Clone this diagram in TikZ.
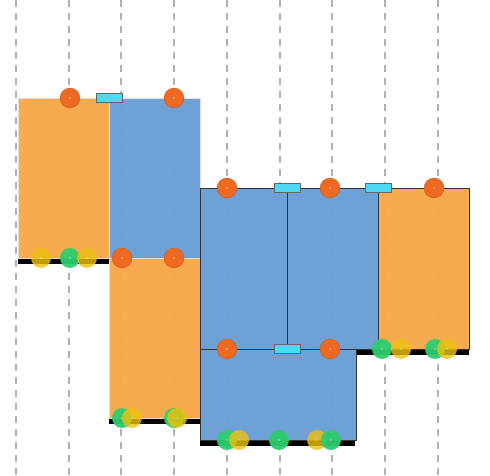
\documentclass[tikz,border=0pt]{standalone}
\begin{document}
\begin{tikzpicture}[x=1pt,y=-1pt,
  guide/.style={draw=gray!60,line width=1.3pt,dash pattern=on 7pt off 6pt},
  orect/.style={fill=orng,fill opacity=0.97},
  brect/.style={fill=blu,fill opacity=0.97},
  litebd/.style={draw=gray!25,line width=0.8pt},
  darkbd/.style={draw=black!80,line width=1pt},
  bar/.style={fill=black},
  link/.style={draw=black!60,fill=cyn,line width=0.6pt,minimum width=26pt,minimum height=9pt,inner sep=0pt},
  oc/.style={circle,fill=orc,draw=orc!80!black,line width=0.3pt,minimum size=20pt,inner sep=0pt,path picture={\fill[white](path picture bounding box.center) circle (0.6pt);}},
  gc/.style={circle,fill=grn,fill opacity=0.95,minimum size=20pt,inner sep=0pt,path picture={\fill[white](path picture bounding box.center) circle (0.6pt);}},
  yc/.style={circle,fill=ylw,fill opacity=0.8,minimum size=20pt,inner sep=0pt,path picture={\fill[white](path picture bounding box.center) circle (0.6pt);}},
]
\definecolor{orng}{HTML}{F8A84A}
\definecolor{blu}{HTML}{6AA0D6}
\definecolor{cyn}{HTML}{4ED8F4}
\definecolor{orc}{HTML}{EE6A22}
\definecolor{grn}{HTML}{2ECC6F}
\definecolor{ylw}{HTML}{EDC20F}
\useasboundingbox[fill=white] (0,0) rectangle (490,476);
% guides
\foreach \i/\x in {1/16,2/69,3/121,4/174,5/227,6/280,7/332,8/385,9/438}{
  \coordinate (gt\i) at (\x,0); \coordinate (gb\i) at (\x,476);
  \draw[guide] (gt\i) -- (gb\i);
}
% bars
\path[bar] (18,258) rectangle (109,264);
\path[bar] (109,418) rectangle (200,424);
\path[bar] (200,440) rectangle (355,446);
\path[bar] (357,349) rectangle (469,355);
% rectangles
\path[orect] (18,98) rectangle (109,258);
\draw[litebd] (18,98) rectangle (109,258);
\path[brect] (109,98) rectangle (200,258);
\draw[litebd] (109,98) rectangle (200,258);
\path[orect] (109,258) rectangle (200,418);
\draw[litebd] (109,258) rectangle (200,418);
\path[brect] (200,188) rectangle (287,349);
\draw[darkbd] (200,188) rectangle (287,349);
\path[brect] (287,188) rectangle (378,349);
\draw[darkbd] (287,188) rectangle (378,349);
\path[orect] (378,188) rectangle (469,349);
\draw[darkbd] (378,188) rectangle (469,349);
\path[brect] (200,349) rectangle (356,440);
\draw[darkbd] (200,349) rectangle (356,440);
% links
\node[link] (l1) at (109,98) {};
\node[link] (l2) at (287,188) {};
\node[link] (l3) at (378,188) {};
\node[link] (l4) at (287,349) {};
% orange circles
\node[oc] (o1) at (70,98) {};
\node[oc] (o2) at (174,98) {};
\node[oc] (o3) at (122,258) {};
\node[oc] (o4) at (174,258) {};
\node[oc] (o5) at (227,188) {};
\node[oc] (o6) at (330,188) {};
\node[oc] (o7) at (434,188) {};
\node[oc] (o8) at (227,349) {};
\node[oc] (o9) at (330,349) {};
% green and yellow circles
\node[yc] (y1) at (41,258) {};
\node[gc] (g1) at (70,258) {};
\node[yc] (y2) at (87,258) {};
\node[gc] (g2) at (382,349) {};
\node[yc] (y3) at (401,349) {};
\node[gc] (g3) at (435,349) {};
\node[yc] (y4) at (447,349) {};
\node[gc] (g4) at (122,418) {};
\node[yc] (y5) at (132,418) {};
\node[gc] (g5) at (174,418) {};
\node[yc] (y6) at (177,418) {};
\node[gc] (g6) at (227,440) {};
\node[yc] (y7) at (239,440) {};
\node[gc] (g7) at (279,440) {};
\node[yc] (y8) at (317,440) {};
\node[gc] (g8) at (331,440) {};
\end{tikzpicture}
\end{document}
